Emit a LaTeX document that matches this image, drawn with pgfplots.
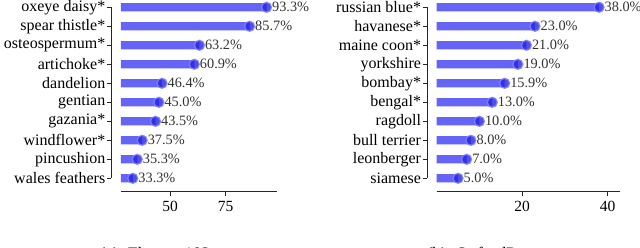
\documentclass[border=0pt]{standalone}
\usepackage{pgfplots}
\pgfplotsset{compat=1.18}
\usepackage{fontspec}
\setmainfont{Liberation Serif}
\definecolor{barc}{RGB}{100,100,246}
\definecolor{markc}{RGB}{35,35,225}
\definecolor{ringc}{RGB}{130,130,255}
\pgfplotsset{
  hb/.style={
    scale only axis,
    y dir=reverse,
    ymin=-0.72, ymax=9.72,
    ytick={0,...,9},
    axis x line*=bottom,
    axis y line*=left,
    y axis line style={draw=none},
    x axis line style={line width=1pt, black!85, -},
    tick align=outside,
    major tick length=4pt,
    every tick/.style={line width=1pt, black!85},
    y tick style={xshift=-9.5pt},
    yticklabel style={xshift=-10.5pt, font=\fontsize{16}{18}\selectfont, inner sep=1pt},
    xticklabel style={font=\fontsize{15.5}{17}\selectfont, inner sep=2pt, yshift=-3pt},
    /pgf/number format/assume math mode=true,
    clip mode=individual,
    point meta=x,
    nodes near coords={\pgfmathprintnumber[fixed,fixed zerofill,precision=1]{\pgfplotspointmeta}\%},
    every node near coord/.append style={anchor=west, xshift=5pt, font=\fontsize{14.3}{16}\selectfont, text=black, inner sep=0pt},
  },
  barplot/.style={xbar, bar width=8.3pt, bar shift=0pt, fill=barc, draw=none, forget plot, nodes near coords={}},
  mplot/.style={only marks, mark=*, mark size=5pt, mark options={fill=markc, fill opacity=0.8, draw=ringc, draw opacity=0.85, line width=1.3pt}},
}
\begin{document}
\begin{tikzpicture}
\begin{axis}[hb, at={(121pt,56pt)}, anchor=south west,
  width=156pt, height=198.4pt, xmin=28, xmax=98, xtick={50,75},
  yticklabels={oxeye daisy*, spear thistle*, osteospermum*, artichoke*, dandelion, gentian, gazania*, windflower*, pincushion, wales feathers}]
\addplot[barplot] coordinates {(93.3,0) (85.7,1) (63.2,2) (60.9,3) (46.4,4) (45.0,5) (43.5,6) (37.5,7) (35.3,8) (33.3,9)};
\addplot[mplot] coordinates {(93.3,0) (85.7,1) (63.2,2) (60.9,3) (46.4,4) (45.0,5) (43.5,6) (37.5,7) (35.3,8) (33.3,9)};
\draw[line width=1pt, black!85] ([xshift=-9.5pt]axis cs:28,0) -- ([xshift=-9.5pt]axis cs:28,9);
\end{axis}
\begin{axis}[hb, at={(436.7pt,56pt)}, anchor=south west,
  width=183.3pt, height=198.4pt, xmin=0, xmax=42.9, xtick={20,40},
  yticklabels={russian blue*, havanese*, maine coon*, yorkshire, bombay*, bengal*, ragdoll, bull terrier, leonberger, siamese}]
\addplot[barplot] coordinates {(38.0,0) (23.0,1) (21.0,2) (19.0,3) (15.9,4) (13.0,5) (10.0,6) (8.0,7) (7.0,8) (5.0,9)};
\addplot[mplot] coordinates {(38.0,0) (23.0,1) (21.0,2) (19.0,3) (15.9,4) (13.0,5) (10.0,6) (8.0,7) (7.0,8) (5.0,9)};
\draw[line width=1pt, black!85] ([xshift=-9.5pt]axis cs:0,0) -- ([xshift=-9.5pt]axis cs:0,9);
\end{axis}
\node[anchor=base, font=\fontsize{17.5}{19}\selectfont] at (155pt,-12pt) {(a)\enspace Flowers102};
\node[anchor=base, font=\fontsize{17.5}{19}\selectfont] at (481pt,-12pt) {(b)\enspace OxfordPets};
\pgfresetboundingbox
\useasboundingbox (0,0) rectangle (640pt,248pt);
\end{tikzpicture}
\end{document}
